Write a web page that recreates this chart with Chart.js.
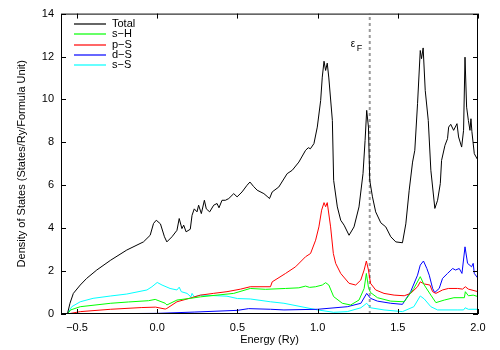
<!DOCTYPE html>
<html>
<head>
<meta charset="utf-8">
<script src="https://cdn.jsdelivr.net/npm/chart.js@4.4.1/dist/chart.umd.min.js"></script>
<style>
    html, body { margin: 0; padding: 0; background: #fff; }
    #chart-wrap { width: 500px; height: 350px; }
</style>
</head>
<body>
<div id="chart-wrap"><canvas id="dos-chart" width="500" height="350"></canvas></div>
<script>
// Density of states (Energy in Ry, DOS in states/Ry/f.u.)
var totalE = [-0.56, -0.544, -0.523, -0.48, -0.44, -0.377, -0.29, -0.19, -0.086, -0.044, -0.023, -0.006, 0.02, 0.045, 0.06, 0.092, 0.123, 0.137, 0.154, 0.165, 0.18, 0.206, 0.217, 0.231, 0.248, 0.258, 0.275, 0.294, 0.306, 0.327, 0.352, 0.373, 0.385, 0.404, 0.425, 0.446, 0.477, 0.498, 0.529, 0.56, 0.578, 0.6, 0.623, 0.665, 0.69, 0.70, 0.717, 0.758, 0.81, 0.842, 0.883, 0.925, 0.942, 0.955, 0.977, 0.998, 1.019, 1.029, 1.04, 1.05, 1.06, 1.07, 1.092, 1.10, 1.123, 1.144, 1.165, 1.196, 1.227, 1.258, 1.283, 1.296, 1.306, 1.317, 1.325, 1.342, 1.362, 1.394, 1.425, 1.456, 1.4875, 1.529, 1.55, 1.571, 1.592, 1.606, 1.623, 1.64, 1.648, 1.658, 1.671, 1.69, 1.706, 1.731, 1.748, 1.765, 1.773, 1.794, 1.81, 1.817, 1.83, 1.848, 1.869, 1.879, 1.898, 1.91, 1.919, 1.929, 1.94, 1.95, 1.956, 1.962, 1.977, 2.0];
var totalDos = [0, 0.5, 0.96, 1.35, 1.66, 2.05, 2.51, 2.98, 3.36, 3.67, 4.22, 4.37, 4.2, 3.6, 3.36, 3.6, 3.9, 4.45, 3.98, 4.14, 3.83, 3.95, 4.6, 4.9, 4.76, 5.07, 4.68, 5.3, 4.9, 4.76, 5.07, 5.15, 4.95, 5.3, 5.3, 5.38, 5.61, 5.46, 5.69, 6.0, 6.15, 5.95, 5.77, 5.61, 5.45, 5.38, 5.69, 5.92, 6.54, 6.7, 7.08, 7.63, 7.75, 7.7, 7.94, 8.71, 9.95, 11.04, 11.78, 11.35, 11.69, 11.0, 9.02, 6.23, 4.99, 4.37, 4.14, 3.67, 4.06, 4.99, 6.54, 8.09, 9.49, 8.71, 6.23, 5.46, 4.76, 4.25, 4.06, 3.6, 3.36, 3.32, 4.2, 5.77, 7.08, 7.63, 9.8, 12.28, 11.9, 12.4, 10.42, 9.02, 6.7, 4.92, 5.3, 6.08, 7.16, 7.86, 8.17, 8.71, 8.84, 8.56, 8.87, 8.25, 7.78, 8.56, 11.97, 9.64, 9.02, 8.56, 9.1, 8.5, 7.47, 7.16];

var sHE = [-0.56, -0.54, -0.48, -0.29, -0.18, -0.054, -0.0125, 0.05, 0.06, 0.123, 0.206, 0.27, 0.373, 0.477, 0.58, 0.675, 0.8, 0.883, 0.925, 0.95, 0.9875, 1.029, 1.05, 1.07, 1.10, 1.154, 1.206, 1.258, 1.29, 1.304, 1.317, 1.33, 1.373, 1.456, 1.54, 1.60, 1.64, 1.665, 1.706, 1.7375, 1.79, 1.85, 1.915, 1.921, 1.94, 1.97, 2.0];
var sHDos = [0, 0.19, 0.34, 0.5, 0.56, 0.62, 0.68, 0.5, 0.42, 0.65, 0.73, 0.8, 0.88, 0.96, 1.19, 1.15, 1.19, 1.22, 1.3, 1.24, 1.27, 1.35, 1.46, 1.35, 0.81, 0.5, 0.42, 0.65, 1.19, 1.89, 1.24, 1.0, 0.76, 0.6, 0.57, 1.19, 1.74, 1.35, 0.88, 0.53, 0.65, 0.76, 0.76, 1.04, 0.85, 0.88, 0.81];

var pSE = [-0.56, -0.48, -0.29, -0.1, -0.01, 0.05, 0.06, 0.123, 0.186, 0.27, 0.35, 0.435, 0.52, 0.58, 0.706, 0.717, 0.8, 0.8625, 0.925, 0.956, 0.9875, 1.008, 1.025, 1.04, 1.05, 1.06, 1.081, 1.098, 1.1125, 1.144, 1.196, 1.2375, 1.269, 1.29, 1.304, 1.317, 1.33, 1.362, 1.414, 1.477, 1.54, 1.58, 1.623, 1.64, 1.665, 1.70, 1.717, 1.7375, 1.779, 1.815, 1.873, 1.904, 1.921, 1.94, 2.0];
var pSDos = [0, 0.11, 0.22, 0.3, 0.32, 0.23, 0.26, 0.57, 0.7, 0.88, 0.96, 1.04, 1.16, 1.27, 1.27, 1.5, 1.89, 2.2, 2.67, 2.82, 3.44, 4.06, 4.84, 5.19, 5.0, 5.19, 4.06, 2.82, 2.36, 1.89, 1.43, 1.35, 1.58, 2.05, 2.47, 2.05, 1.43, 1.12, 0.96, 0.88, 0.85, 0.96, 1.27, 1.5, 1.4, 1.35, 1.04, 0.96, 1.12, 1.19, 1.19, 1.16, 1.27, 1.16, 1.04];

var dSE = [-0.56, 0.0, 0.23, 0.5, 0.57, 0.706, 0.79, 1.0, 1.185, 1.27, 1.306, 1.33, 1.373, 1.456, 1.529, 1.58, 1.623, 1.64, 1.66, 1.681, 1.696, 1.717, 1.73, 1.758, 1.779, 1.81, 1.842, 1.86, 1.883, 1.9, 1.919, 1.935, 1.96, 1.97, 1.977, 2.0];
var dSDos = [0, 0.03, 0.09, 0.17, 0.25, 0.22, 0.19, 0.22, 0.34, 0.5, 0.96, 0.73, 0.6, 0.5, 0.45, 1.04, 1.81, 2.28, 2.47, 2.12, 1.81, 1.19, 1.0, 1.19, 1.66, 1.89, 2.12, 2.05, 2.12, 1.89, 3.13, 2.36, 2.2, 2.36, 1.89, 1.66];

var sSE = [-0.56, -0.533, -0.48, -0.40, -0.29, -0.19, -0.064, -0.033, 0.0, 0.03, 0.08, 0.123, 0.137, 0.15, 0.186, 0.21, 0.217, 0.23, 0.27, 0.373, 0.435, 0.5, 0.58, 0.706, 0.79, 1.0, 1.1, 1.185, 1.27, 1.306, 1.33, 1.414, 1.529, 1.60, 1.64, 1.665, 1.706, 1.748, 1.87, 1.91, 1.92, 1.94, 2.0];
var sSDos = [0, 0.34, 0.57, 0.73, 0.84, 0.93, 1.12, 1.27, 1.47, 1.35, 1.19, 1.12, 1.25, 1.04, 0.96, 0.8, 0.96, 0.8, 0.88, 0.85, 0.83, 0.72, 0.7, 0.57, 0.5, 0.19, 0.08, 0.11, 0.29, 0.5, 0.29, 0.19, 0.11, 0.34, 0.84, 0.7, 0.34, 0.19, 0.19, 0.19, 0.29, 0.22, 0.22];

var fermiEnergy = 1.325;
var xTicks = [-0.5, 0.0, 0.5, 1.0, 1.5, 2.0];
var xTickLabels = ['\u22120.5', '0.0', '0.5', '1.0', '1.5', '2.0'];
var yTicks = [0, 2, 4, 6, 8, 10, 12, 14];
var yTickLabels = ['0', '2', '4', '6', '8', '10', '12', '14'];

var FONT = 'Liberation Sans, Arial, Helvetica, sans-serif';

function toPoints(xs, ys) {
    var pts = [];
    for (var i = 0; i < xs.length; i++) pts.push({ x: xs[i], y: ys[i] });
    return pts;
}

function curve(label, color, xs, ys) {
    return {
        label: label,
        data: toPoints(xs, ys),
        borderColor: color,
        backgroundColor: color,
        borderWidth: 1,
        pointRadius: 0,
        tension: 0,
        fill: false
    };
}

// frame, inward ticks on all four sides, inside legend and the eF label
var framePlugin = {
    id: 'frame',
    afterDraw: function(chart) {
        var ctx = chart.ctx;
        var a = chart.chartArea;
        var xs = chart.scales.x;
        var ys = chart.scales.y;
        ctx.save();
        ctx.strokeStyle = '#000';
        ctx.lineWidth = 1;
        ctx.strokeRect(a.left + 0.5, a.top + 0.5, a.right - a.left - 1, a.bottom - a.top - 1);

        ctx.beginPath();
        xTicks.forEach(function(v) {
            var px = Math.round(xs.getPixelForValue(v)) + 0.5;
            ctx.moveTo(px, a.bottom); ctx.lineTo(px, a.bottom - 5);
            ctx.moveTo(px, a.top); ctx.lineTo(px, a.top + 5);
        });
        yTicks.forEach(function(v) {
            var py = Math.round(ys.getPixelForValue(v)) + 0.5;
            ctx.moveTo(a.left, py); ctx.lineTo(a.left + 5, py);
            ctx.moveTo(a.right, py); ctx.lineTo(a.right - 5, py);
        });
        ctx.stroke();

        // legend (only the DOS curves)
        ctx.font = '11px ' + FONT;
        ctx.textBaseline = 'middle';
        ctx.textAlign = 'left';
        var row = 0;
        chart.data.datasets.forEach(function(ds) {
            if (!ds.label) return;
            var y = Math.round(a.top + 10 + row * 10.45);
            ctx.strokeStyle = ds.borderColor;
            ctx.lineWidth = 1.2;
            ctx.beginPath();
            ctx.moveTo(74, y); ctx.lineTo(106, y);
            ctx.stroke();
            ctx.fillStyle = '#000';
            ctx.fillText(ds.label, 112, y);
            row++;
        });

        // Fermi level label
        var fx = xs.getPixelForValue(fermiEnergy);
        var fy = ys.getPixelForValue(12.55);
        ctx.fillStyle = '#000';
        ctx.font = '10px ' + FONT;
        ctx.fillText('\u03b5', fx - 19, fy);
        ctx.font = '9px ' + FONT;
        ctx.fillText('F', fx - 13, fy + 4);
        ctx.restore();
    }
};

var dosChart = new Chart(document.getElementById('dos-chart').getContext('2d'), {
    type: 'line',
    data: {
        datasets: [
            curve('Total', '#000000', totalE, totalDos),
            curve('s\u2212H', '#00ff00', sHE, sHDos),
            curve('p\u2212S', '#ff0000', pSE, pSDos),
            curve('d\u2212S', '#0000ff', dSE, dSDos),
            curve('s\u2212S', '#00ffff', sSE, sSDos),
            {
                label: '',
                data: [{ x: fermiEnergy, y: 0 }, { x: fermiEnergy, y: 14 }],
                borderColor: '#999999',
                borderWidth: 2,
                borderDash: [3, 3],
                pointRadius: 0,
                fill: false
            }
        ]
    },
    options: {
        responsive: false,
        animation: false,
        devicePixelRatio: 1,
        layout: { padding: { left: 0, right: 22, top: 13, bottom: 0 } },
        plugins: { legend: { display: false }, tooltip: { enabled: false } },
        scales: {
            x: {
                type: 'linear',
                min: -0.6, max: 2.0,
                border: { display: false },
                grid: { display: false, drawTicks: false },
                afterBuildTicks: function(s) { s.ticks = xTicks.map(function(v) { return { value: v }; }); },
                afterFit: function(s) { s.height = 36; },
                ticks: {
                    padding: 7,
                    color: '#000',
                    font: { family: FONT, size: 11 },
                    callback: function(v) { var i = xTicks.indexOf(v); return i >= 0 ? xTickLabels[i] : ''; }
                },
                title: {
                    display: true,
                    text: 'Energy (Ry)',
                    color: '#000',
                    font: { family: FONT, size: 11 },
                    padding: { top: 0, bottom: 3 }
                }
            },
            y: {
                type: 'linear',
                min: 0, max: 14,
                border: { display: false },
                grid: { display: false, drawTicks: false },
                afterBuildTicks: function(s) { s.ticks = yTicks.map(function(v) { return { value: v }; }); },
                afterFit: function(s) { s.width = 61; },
                ticks: {
                    padding: 7,
                    color: '#000',
                    font: { family: FONT, size: 11 },
                    callback: function(v) { var i = yTicks.indexOf(v); return i >= 0 ? yTickLabels[i] : ''; }
                },
                title: {
                    display: true,
                    text: 'Density of States (States/Ry/Formula Unit)',
                    color: '#000',
                    font: { family: FONT, size: 11 },
                    padding: { top: 15, bottom: 0 }
                }
            }
        }
    },
    plugins: [framePlugin]
});
</script>
</body>
</html>
